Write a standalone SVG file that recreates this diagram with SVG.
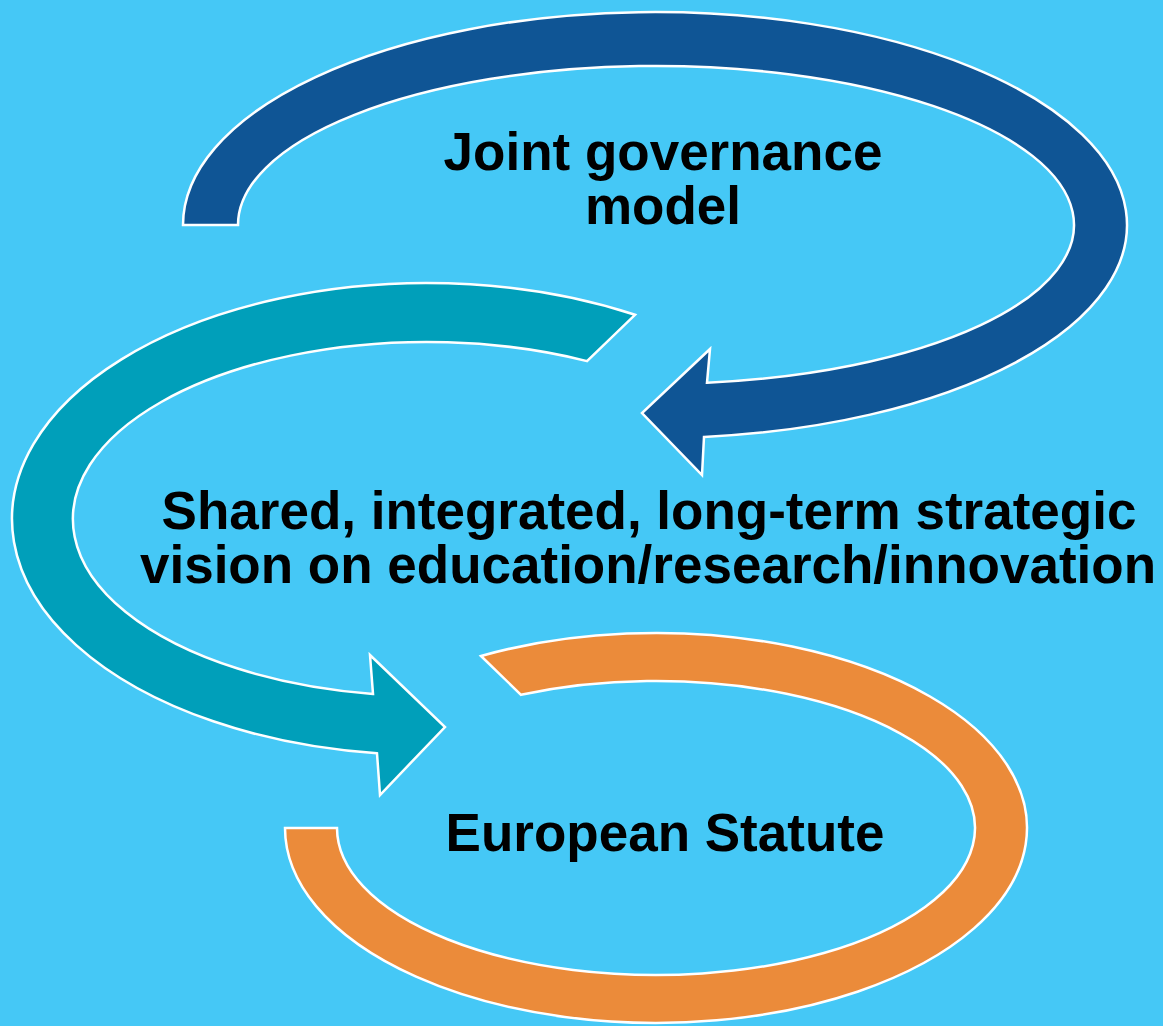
<svg xmlns="http://www.w3.org/2000/svg" width="1163" height="1026" viewBox="0 0 1163 1026">
<style>
.arrow{stroke:#FFFFFF;stroke-width:2.5;stroke-linejoin:miter}
.lbl{font-family:"Liberation Sans",Arial,sans-serif;font-weight:bold;font-size:53px;fill:#000000;text-anchor:middle}
</style>
<rect x="0" y="0" width="1163" height="1026" fill="#45C8F6"/>
<g id="connectors">
<path id="arrow-governance" class="arrow" fill="#0F5595" d="M 183,225 A 472 213 0 1 1 704,436.9 L 702,475 L 642,413 L 710,349 L 707,382.8 A 418 159 0 1 0 238,225 Z"/>
<path id="arrow-vision" class="arrow" fill="#009FBA" d="M 635,314.8 A 415 236 0 1 0 377,753.3 L 380,795 L 445,727 L 370,655 L 373,693.9 A 354 177 0 1 1 587,361.1 Z"/>
<path id="arrow-statute" class="arrow" fill="#EB8B3A" d="M 481,656 A 371 195 0 1 1 285,828 L 337,828 A 319 147 0 1 0 521,694.8 Z"/>
</g>
<g id="node-governance">
<text class="lbl" x="663" y="170">Joint governance</text>
<text class="lbl" x="663" y="224">model</text>
</g>
<g id="node-vision">
<text class="lbl" x="649" y="529">Shared, integrated, long-term strategic</text>
<text class="lbl" x="648" y="583">vision on education/research/innovation</text>
</g>
<g id="node-statute">
<text class="lbl" x="665" y="851">European Statute</text>
</g>
</svg>
